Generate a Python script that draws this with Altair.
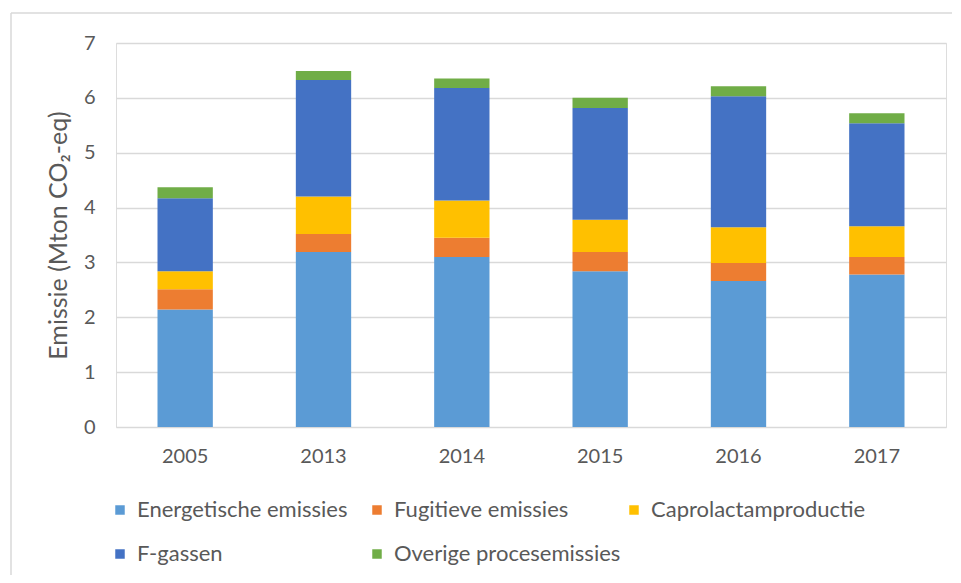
import altair as alt
import pandas as pd

years = ["2005", "2013", "2014", "2015", "2016", "2017"]
categories = ["Energetische emissies", "Fugitieve emissies", "Caprolactamproductie",
              "F-gassen", "Overige procesemissies"]
colors = ["#5B9BD5", "#ED7D31", "#FFC000", "#4472C4", "#70AD47"]

energetisch = [2.14, 3.19, 3.10, 2.84, 2.66, 2.78]
fugitief = [0.37, 0.33, 0.35, 0.35, 0.33, 0.32]
caprolactam = [0.33, 0.68, 0.68, 0.59, 0.65, 0.56]
fgassen = [1.33, 2.125, 2.05, 2.035, 2.39, 1.875]
overig = [0.20, 0.165, 0.175, 0.185, 0.18, 0.185]

series = [energetisch, fugitief, caprolactam, fgassen, overig]
rows = []
for ci, (cat, vals) in enumerate(zip(categories, series)):
    for y, v in zip(years, vals):
        rows.append({"jaar": y, "bron": cat, "waarde": v, "idx": ci})
df = pd.DataFrame(rows)

FONT = "Lato"
GREY = "#595959"
GRID = "#d9d9d9"

bars = alt.Chart(df).mark_bar().encode(
    x=alt.X("jaar:N", sort=years,
            scale=alt.Scale(paddingInner=0.6, paddingOuter=0.3),
            axis=alt.Axis(title=None, labelAngle=0, ticks=False, domain=False,
                          labelPadding=19, labelFontSize=20, labelColor=GREY,
                          labelFont=FONT)),
    y=alt.Y("waarde:Q", stack="zero",
            scale=alt.Scale(domain=[0, 7]),
            axis=alt.Axis(title="Emissie (Mton CO₂-eq)", values=[0, 1, 2, 3, 4, 5, 6, 7],
                          ticks=False, domain=False, labelPadding=21,
                          labelFontSize=20, labelColor=GREY, labelFont=FONT,
                          titleFont=FONT, titleFontSize=25, titleFontWeight="normal",
                          titleColor=GREY, titlePadding=12,
                          grid=True, gridColor=GRID, gridWidth=1.5)),
    color=alt.Color("bron:N", sort=categories,
                    scale=alt.Scale(domain=categories, range=colors),
                    legend=alt.Legend(title=None, orient="none", legendX=-7, legendY=456,
                                      direction="horizontal", columns=3, gridAlign="all",
                                      columnPadding=2, rowPadding=22,
                                      symbolType="square", symbolSize=90,
                                      symbolStrokeWidth=0, labelFontSize=22,
                                      labelFont=FONT, labelColor=GREY, labelOffset=6,
                                      labelLimit=400, padding=0)),
    order=alt.Order("idx:Q", sort="ascending"),
)

border_data = pd.DataFrame({"a": [0]})
top_line = alt.Chart(border_data).mark_rule(color=GRID, strokeWidth=1.5).encode(
    x=alt.value(-105), x2=alt.value(836), y=alt.value(-30))
left_line = alt.Chart(border_data).mark_rule(color=GRID, strokeWidth=1.5).encode(
    x=alt.value(-105), y=alt.value(-30), y2=alt.value(532))

chart = alt.layer(bars, top_line, left_line).properties(
    width=830, height=384,
    padding={"left": 2, "top": 4, "right": 0, "bottom": 0},
).configure_view(stroke=None).configure(background="white")

chart.save("out.html", embed_options={"renderer": "svg", "actions": False})
